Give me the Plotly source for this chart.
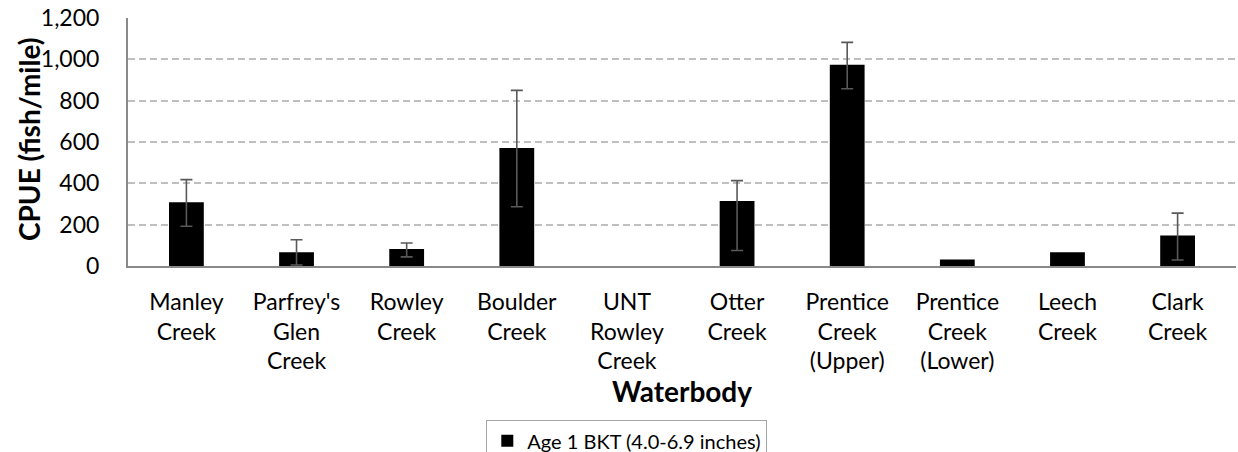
import plotly.graph_objects as go

categories = ["Manley<br>Creek", "Parfrey's<br>Glen<br>Creek", "Rowley<br>Creek", "Boulder<br>Creek",
              "UNT<br>Rowley<br>Creek", "Otter<br>Creek", "Prentice<br>Creek<br>(Upper)",
              "Prentice<br>Creek<br>(Lower)", "Leech<br>Creek", "Clark<br>Creek"]
cpue = [308, 66, 82, 571, 0, 314, 974, 32, 66, 147]
err_plus = [110, 61, 29, 279, None, 99, 108, None, None, 109]
err_minus = [116, 61, 38, 284, None, 239, 116, None, None, 118]
series_name = "Age 1 BKT (4.0-6.9 inches)"
y_ticks = [0, 200, 400, 600, 800, 1000, 1200]

FONT = "Lato"

# points that carry an error bar
has_err = [e is not None for e in err_plus]
err_y_vals = [v if h else None for v, h in zip(cpue, has_err)]
err_p = [e if e is not None else 0 for e in err_plus]
err_m = [e if e is not None else 0 for e in err_minus]

fig = go.Figure()
fig.add_trace(go.Bar(
    x=categories, y=cpue, name=series_name,
    marker=dict(color="#000000", line=dict(width=0)),
    showlegend=True,
))
fig.add_trace(go.Scatter(
    x=categories, y=err_y_vals, mode="markers",
    marker=dict(size=1, color="rgba(0,0,0,0)"),
    error_y=dict(type="data", symmetric=False, array=err_p, arrayminus=err_m,
                 color="#595959", thickness=1.6, width=6),
    showlegend=False, hoverinfo="skip",
))

fig.update_layout(
    width=1238, height=452,
    margin=dict(l=128, r=2, t=18, b=186, autoexpand=False),
    paper_bgcolor="white", plot_bgcolor="white",
    font=dict(family=FONT, color="#000000"),
    bargap=0.684,
    showlegend=True,
    legend=dict(
        orientation="h", x=(486 - 128) / 1108, xanchor="left", y=(266 - 420) / 248, yanchor="top",
        bordercolor="#a6a6a6", borderwidth=1.3, bgcolor="white",
        font=dict(family=FONT, size=20, color="#000000"),
    ),
    annotations=[
        dict(text="<b>CPUE (fish/mile)</b>", textangle=-90,
             x=(29 - 128) / 1108, xref="paper", xanchor="center",
             y=(266 - 139) / 248, yref="paper", yanchor="middle", showarrow=False,
             font=dict(family=FONT, size=28, color="#000000")),
    ],
)

fig.update_xaxes(
    showline=True, linecolor="#898989", linewidth=2,
    showgrid=False, ticks="", ticklabelstandoff=14,
    tickfont=dict(family=FONT, size=23, color="#000000"),
    title=dict(text="<b>Waterbody</b>", font=dict(family=FONT, size=28, color="#000000"), standoff=8),
)
fig.update_yaxes(
    range=[0, 1200], tickvals=y_ticks, tickformat=",d",
    showline=True, linecolor="#898989", linewidth=2,
    showgrid=True, gridcolor="#bfbfbf", gridwidth=1.6, griddash="7px,4px",
    zeroline=False, ticks="", ticklabelstandoff=22,
    tickfont=dict(family=FONT, size=23, color="#000000"),
)

fig.write_html("out.html", config={"displayModeBar": False},
               post_script="document.body.style.margin='0';document.body.style.overflow='hidden';")
